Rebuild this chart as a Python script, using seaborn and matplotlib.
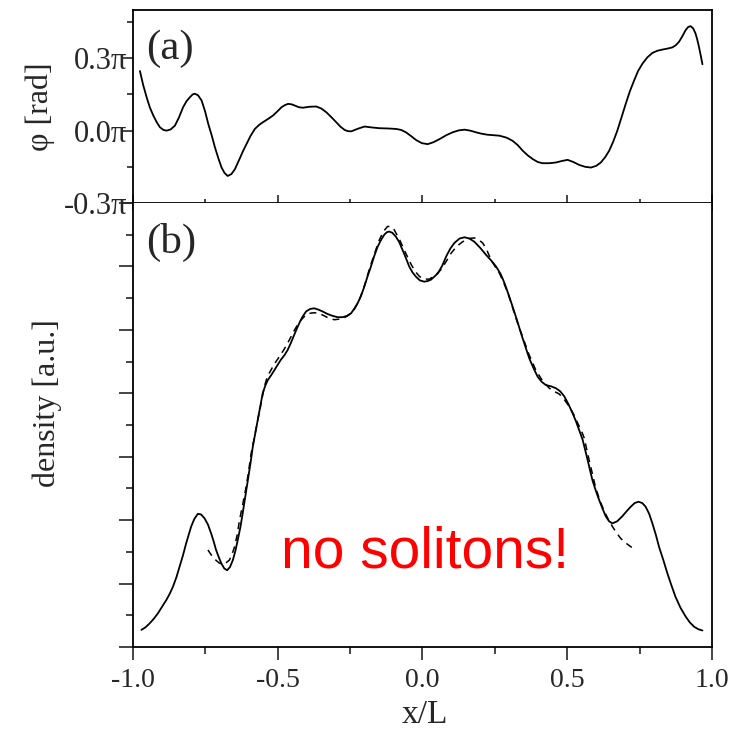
import numpy as np
import pandas as pd
import matplotlib
matplotlib.use("Agg")
import matplotlib.pyplot as plt
import seaborn as sns
from matplotlib.ticker import MultipleLocator, FixedLocator, FixedFormatter

# phase profile, in units of pi
x_phase = [-0.976, -0.965, -0.953, -0.942, -0.930, -0.918, -0.907, -0.895, -0.884, -0.870,
           -0.855, -0.841, -0.827, -0.815, -0.803, -0.794, -0.786, -0.775, -0.763, -0.751,
           -0.740, -0.728, -0.717, -0.705, -0.694, -0.684, -0.673, -0.660, -0.648, -0.631,
           -0.620, -0.608, -0.594, -0.579, -0.565, -0.551, -0.534, -0.516, -0.501, -0.487,
           -0.475, -0.464, -0.452, -0.441, -0.427, -0.413, -0.390, -0.367, -0.350, -0.332,
           -0.315, -0.298, -0.283, -0.269, -0.258, -0.246, -0.223, -0.200, -0.174, -0.148,
           -0.120, -0.091, -0.074, -0.057, -0.040, -0.022, -0.002, 0.018, 0.038, 0.059,
           0.082, 0.104, 0.125, 0.145, 0.165, 0.185, 0.205, 0.225, 0.246, 0.266,
           0.290, 0.311, 0.329, 0.346, 0.364, 0.381, 0.398, 0.415, 0.438, 0.461,
           0.481, 0.501, 0.521, 0.541, 0.562, 0.582, 0.600, 0.616, 0.631, 0.645,
           0.659, 0.673, 0.688, 0.702, 0.716, 0.731, 0.745, 0.760, 0.777, 0.794,
           0.811, 0.829, 0.846, 0.863, 0.875, 0.886, 0.898, 0.909, 0.918, 0.926,
           0.935, 0.943, 0.949, 0.955, 0.961, 0.967]
phase = [0.247, 0.190, 0.139, 0.097, 0.063, 0.035, 0.014, 0.003, 0.000, 0.005,
         0.021, 0.055, 0.097, 0.122, 0.139, 0.150, 0.153, 0.146, 0.125, 0.080,
         0.028, -0.020, -0.069, -0.115, -0.153, -0.175, -0.188, -0.180, -0.160, -0.115,
         -0.085, -0.056, -0.022, 0.007, 0.023, 0.035, 0.048, 0.063, 0.080, 0.097,
         0.106, 0.111, 0.109, 0.104, 0.097, 0.095, 0.099, 0.100, 0.092, 0.076,
         0.056, 0.035, 0.016, 0.003, -0.002, -0.003, 0.008, 0.017, 0.013, 0.010,
         0.009, 0.007, 0.003, -0.007, -0.022, -0.039, -0.052, -0.056, -0.048, -0.035,
         -0.019, -0.007, 0.001, 0.004, 0.000, -0.007, -0.013, -0.017, -0.019, -0.021,
         -0.029, -0.042, -0.060, -0.083, -0.103, -0.118, -0.130, -0.135, -0.135, -0.132,
         -0.126, -0.121, -0.130, -0.142, -0.150, -0.153, -0.146, -0.132, -0.110, -0.083,
         -0.045, 0.000, 0.057, 0.111, 0.162, 0.208, 0.248, 0.278, 0.304, 0.322,
         0.331, 0.336, 0.340, 0.345, 0.354, 0.368, 0.392, 0.417, 0.430, 0.433,
         0.424, 0.403, 0.378, 0.347, 0.312, 0.275]

# measured density
x_dens = [-0.971, -0.957, -0.943, -0.929, -0.914, -0.900, -0.885, -0.873, -0.862, -0.850,
          -0.839, -0.827, -0.816, -0.807, -0.799, -0.788, -0.776, -0.765, -0.753, -0.741,
          -0.730, -0.721, -0.713, -0.704, -0.695, -0.685, -0.675, -0.665, -0.655, -0.646,
          -0.638, -0.629, -0.621, -0.612, -0.603, -0.594, -0.586, -0.577, -0.569, -0.560,
          -0.552, -0.543, -0.534, -0.522, -0.511, -0.500, -0.489, -0.477, -0.466, -0.455,
          -0.443, -0.434, -0.425, -0.414, -0.402, -0.388, -0.374, -0.360, -0.345, -0.328,
          -0.310, -0.293, -0.276, -0.261, -0.247, -0.236, -0.224, -0.212, -0.201, -0.190,
          -0.178, -0.167, -0.155, -0.143, -0.132, -0.123, -0.115, -0.104, -0.092, -0.080,
          -0.069, -0.057, -0.046, -0.035, -0.023, -0.009, 0.006, 0.018, 0.029, 0.053,
          0.068, 0.082, 0.096, 0.110, 0.128, 0.145, 0.162, 0.179, 0.200, 0.220,
          0.238, 0.254, 0.270, 0.283, 0.297, 0.311, 0.326, 0.340, 0.355, 0.369,
          0.384, 0.398, 0.412, 0.426, 0.444, 0.461, 0.476, 0.490, 0.504, 0.518,
          0.530, 0.541, 0.553, 0.565, 0.576, 0.587, 0.599, 0.610, 0.622, 0.633,
          0.645, 0.656, 0.672, 0.690, 0.705, 0.719, 0.733, 0.746, 0.759, 0.771,
          0.783, 0.794, 0.806, 0.817, 0.832, 0.846, 0.860, 0.874, 0.891, 0.909,
          0.923, 0.938, 0.953, 0.967]
dens = [0.27, 0.31, 0.37, 0.44, 0.53, 0.63, 0.74, 0.84, 0.95, 1.10,
        1.27, 1.45, 1.64, 1.78, 1.90, 2.02, 2.10, 2.09, 2.03, 1.93,
        1.79, 1.66, 1.53, 1.42, 1.32, 1.24, 1.21, 1.26, 1.37, 1.52,
        1.69, 1.89, 2.11, 2.37, 2.63, 2.90, 3.16, 3.38, 3.58, 3.80,
        4.00, 4.12, 4.21, 4.29, 4.37, 4.45, 4.53, 4.60, 4.68, 4.79,
        4.92, 5.02, 5.11, 5.21, 5.29, 5.33, 5.34, 5.32, 5.29, 5.25,
        5.22, 5.20, 5.20, 5.22, 5.26, 5.33, 5.42, 5.54, 5.68, 5.84,
        6.00, 6.16, 6.31, 6.42, 6.50, 6.54, 6.55, 6.53, 6.47, 6.38,
        6.26, 6.13, 6.00, 5.91, 5.84, 5.78, 5.76, 5.77, 5.79, 5.89,
        6.01, 6.16, 6.28, 6.37, 6.44, 6.46, 6.44, 6.39, 6.29, 6.18,
        6.09, 6.00, 5.88, 5.74, 5.56, 5.37, 5.16, 4.95, 4.74, 4.55,
        4.39, 4.26, 4.18, 4.13, 4.11, 4.08, 4.03, 3.95, 3.83, 3.69,
        3.56, 3.42, 3.27, 3.05, 2.84, 2.63, 2.46, 2.32, 2.18, 2.06,
        1.98, 1.95, 1.98, 2.06, 2.14, 2.21, 2.27, 2.29, 2.27, 2.21,
        2.10, 1.95, 1.77, 1.58, 1.37, 1.16, 0.97, 0.79, 0.62, 0.48,
        0.39, 0.32, 0.28, 0.26]

# fitted density
x_fit = [-0.741, -0.728, -0.714, -0.701, -0.690, -0.678, -0.667, -0.658, -0.649, -0.640,
         -0.632, -0.620, -0.609, -0.600, -0.592, -0.580, -0.569, -0.557, -0.546, -0.538,
         -0.529, -0.512, -0.494, -0.477, -0.460, -0.443, -0.425, -0.408, -0.391, -0.374,
         -0.356, -0.339, -0.322, -0.304, -0.287, -0.270, -0.253, -0.235, -0.218, -0.201,
         -0.184, -0.166, -0.149, -0.135, -0.121, -0.110, -0.098, -0.079, -0.059, -0.039,
         -0.025, -0.010, 0.007, 0.024, 0.044, 0.064, 0.082, 0.099, 0.119, 0.139,
         0.159, 0.179, 0.194, 0.208, 0.223, 0.237, 0.252, 0.266, 0.280, 0.295,
         0.308, 0.320, 0.333, 0.346, 0.368, 0.391, 0.414, 0.438, 0.455, 0.472,
         0.490, 0.507, 0.522, 0.536, 0.548, 0.559, 0.568, 0.578, 0.588, 0.597,
         0.611, 0.626, 0.641, 0.656, 0.670, 0.685, 0.705, 0.723]
fit = [1.53, 1.44, 1.37, 1.32, 1.31, 1.33, 1.37, 1.46, 1.58, 1.77,
       2.00, 2.27, 2.53, 2.79, 3.05, 3.32, 3.58, 3.85, 4.11, 4.23,
       4.32, 4.46, 4.58, 4.70, 4.84, 4.99, 5.13, 5.21, 5.26, 5.27,
       5.26, 5.22, 5.18, 5.16, 5.17, 5.19, 5.24, 5.33, 5.47, 5.69,
       5.95, 6.20, 6.42, 6.55, 6.63, 6.63, 6.58, 6.42, 6.22, 6.03,
       5.92, 5.84, 5.80, 5.80, 5.86, 5.95, 6.08, 6.21, 6.32, 6.39,
       6.44, 6.45, 6.42, 6.37, 6.25, 6.10, 5.99, 5.89, 5.75, 5.58,
       5.40, 5.22, 5.05, 4.89, 4.61, 4.37, 4.20, 4.08, 4.03, 3.99,
       3.90, 3.79, 3.67, 3.53, 3.42, 3.29, 3.10, 2.90, 2.71, 2.53,
       2.33, 2.16, 2.02, 1.90, 1.80, 1.71, 1.63, 1.57]

phase_ticks = [-0.3, 0.0, 0.3]
phase_labels = ["-0.3\u03c0", "0.0\u03c0", "0.3\u03c0"]
x_ticks = [-1.0, -0.5, 0.0, 0.5, 1.0]

sns.set_style("ticks")
plt.rcParams["font.family"] = ["Liberation Serif", "DejaVu Serif"]
plt.rcParams["axes.unicode_minus"] = False

fig = plt.figure(figsize=(7.45, 7.30), dpi=100)
ax_a = fig.add_axes([0.1785, 0.7219, 0.7772, 0.2644])
ax_b = fig.add_axes([0.1785, 0.1137, 0.7772, 0.6082])

lw = 1.3
df_a = pd.DataFrame({"x": x_phase, "phi": phase})
sns.lineplot(data=df_a, x="x", y="phi", ax=ax_a, color="black", lw=lw,
             sort=False, estimator=None)

df_d = pd.DataFrame({"x": x_dens, "n": dens})
df_f = pd.DataFrame({"x": x_fit, "n": fit})
sns.lineplot(data=df_d, x="x", y="n", ax=ax_b, color="black", lw=lw,
             sort=False, estimator=None)
sns.lineplot(data=df_f, x="x", y="n", ax=ax_b, color="black", lw=1.1,
             sort=False, estimator=None, linestyle=(0, (4.5, 3.5)))

for ax in (ax_a, ax_b):
    ax.set_xlim(-1.0, 1.0)
    for s in ax.spines.values():
        s.set_linewidth(1.3)
        s.set_color("black")
    ax.xaxis.set_major_locator(FixedLocator(x_ticks))
    ax.xaxis.set_minor_locator(MultipleLocator(0.25))

# panel (a)
ax_a.set_ylim(-0.3, 0.5)
ax_a.yaxis.set_major_locator(FixedLocator(phase_ticks))
ax_a.yaxis.set_major_formatter(FixedFormatter(phase_labels))
ax_a.yaxis.set_minor_locator(MultipleLocator(0.15))
ax_a.tick_params(axis="y", which="major", direction="out", length=7, width=1.2,
                 labelsize=22, pad=-3)
ax_a.tick_params(axis="y", which="minor", direction="out", length=4, width=1.2)
ax_a.tick_params(axis="x", which="major", direction="inout", length=11, width=1.2,
                 labelbottom=False)
ax_a.tick_params(axis="x", which="minor", direction="inout", length=6, width=1.2)
ax_a.set_xlabel("")
ax_a.set_ylabel("\u03c6 [rad]", fontsize=23)
ax_a.yaxis.set_label_coords(-0.135, 0.5)
ax_a.text(0.022, 0.80, "(a)", transform=ax_a.transAxes, fontsize=31,
          ha="left", va="center")

# panel (b)
ax_b.set_ylim(0, 7)
ax_b.yaxis.set_major_locator(MultipleLocator(1.0))
ax_b.yaxis.set_minor_locator(MultipleLocator(0.5))
ax_b.tick_params(axis="y", which="major", direction="out", length=10, width=1.2,
                 labelleft=False)
ax_b.tick_params(axis="y", which="minor", direction="out", length=5, width=1.2)
ax_b.tick_params(axis="x", which="major", direction="out", length=9, width=1.2,
                 labelsize=20, pad=6)
ax_b.tick_params(axis="x", which="minor", direction="out", length=5, width=1.2)
ax_b.spines["top"].set_visible(False)
ax_b.set_xlabel("x/L", fontsize=24)
ax_b.xaxis.set_label_coords(0.504, -0.118)
ax_b.set_ylabel("density [a.u.]", fontsize=23)
ax_b.yaxis.set_label_coords(-0.123, 0.55)
ax_b.text(0.022, 0.912, "(b)", transform=ax_b.transAxes, fontsize=31,
          ha="left", va="center")
ax_b.text(0.01, 1.25, "no solitons!", color="#ff0000", fontsize=41,
          family=["Liberation Sans", "DejaVu Sans"], ha="center", va="baseline")

fig.savefig("out.png", dpi=100, facecolor="white")
